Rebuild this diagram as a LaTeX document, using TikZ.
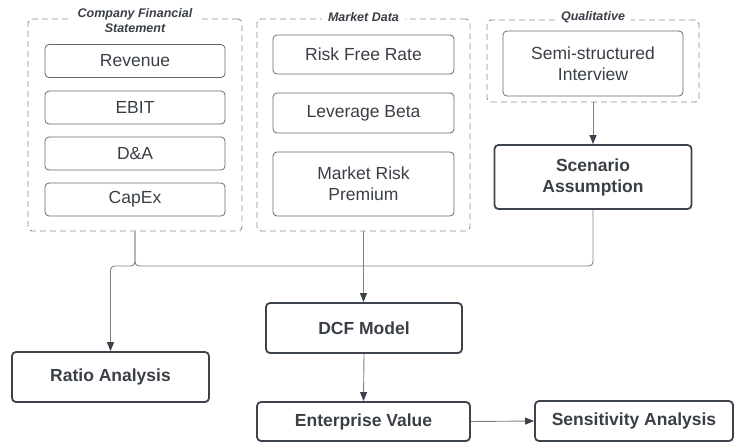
\documentclass[tikz,border=0pt]{standalone}
\usepackage{fontspec}
\setmainfont{Liberation Sans}
\usetikzlibrary{arrows.meta,positioning}
\definecolor{txt}{HTML}{3A3F47}
\definecolor{bord}{HTML}{3D434C}
\definecolor{dash}{HTML}{8A8D91}
\definecolor{conn}{HTML}{7D8186}
\tikzset{
  grp/.style={draw=dash, line width=0.9pt, dash pattern=on 6pt off 4pt, rounded corners=4pt, inner sep=0pt},
  inbox/.style={draw=bord!80, line width=0.8pt, rounded corners=4pt, text=txt, align=center, inner sep=0pt,
     font=\fontsize{17.5}{21}\selectfont},
  keybox/.style={draw=bord, line width=1.8pt, rounded corners=4pt, text=txt, align=center, inner sep=0pt,
     font=\fontsize{17.5}{21}\selectfont\bfseries},
  gtitle/.style={fill=white, text=txt, align=center, inner xsep=6pt, inner ysep=1pt,
     font=\fontsize{12.5}{15}\selectfont\bfseries\itshape},
  conline/.style={draw=conn, line width=0.9pt, rounded corners=4pt},
  arr/.style={conline, -{Triangle[length=9pt,width=7pt,color=bord]}}
}
\begin{document}
\begin{tikzpicture}[x=1pt,y=-1pt]
\useasboundingbox (0,0) rectangle (740,442);
% groups
\node[grp, minimum width=214pt, minimum height=212pt] (g1) at (135,125) {};
\node[grp, minimum width=213pt, minimum height=212pt] (g2) at (363.5,125) {};
\node[grp, minimum width=212pt, minimum height=82pt] (g3) at (593,61) {};
\node[gtitle] (t1) at (135,20.5) {Company Financial\\Statement};
\node[gtitle] (t2) at (363.5,17) {Market Data};
\node[gtitle] (t3) at (593,17) {Qualitative};
% group 1 items
\node[inbox, minimum width=180pt, minimum height=33pt] (rev) at (135,61) {Revenue};
\node[inbox, minimum width=180pt, minimum height=33pt] (ebit) at (135,107.5) {EBIT};
\node[inbox, minimum width=180pt, minimum height=33pt] (da) at (135,153.5) {D\&A};
\node[inbox, minimum width=180pt, minimum height=33pt] (capex) at (135,199.5) {CapEx};
% group 2 items
\node[inbox, minimum width=181pt, minimum height=39pt] (rfr) at (363.5,54.5) {Risk Free Rate};
\node[inbox, minimum width=181pt, minimum height=40pt] (lb) at (363.5,113) {Leverage Beta};
\node[inbox, minimum width=181pt, minimum height=64pt] (mrp) at (363.5,184) {Market Risk\\Premium};
% group 3 item
\node[inbox, minimum width=180pt, minimum height=65pt] (ssi) at (593,63.5) {Semi-structured\\Interview};
% key boxes
\node[keybox, minimum width=197pt, minimum height=64pt] (sa) at (593,177) {Scenario\\Assumption};
\node[keybox, minimum width=197pt, minimum height=50pt] (ra) at (110.5,377) {Ratio Analysis};
\node[keybox, minimum width=196pt, minimum height=50pt] (dcf) at (364,328) {DCF Model};
\node[keybox, minimum width=213pt, minimum height=39pt] (ev) at (363.5,421.5) {Enterprise Value};
\node[keybox, minimum width=198pt, minimum height=40pt] (sens) at (634,421) {Sensitivity Analysis};
% bus coordinates
\coordinate (b1) at (135,266);
\coordinate (b0) at (110.5,266);
\coordinate (b3) at (593,266);
% connectors
\draw[arr] (g1.south) -- (b1) -- (b0) -- (ra.north);
\draw[conline] (sa.south) -- (b3) -- (b1) -- (g1.south);
\draw[arr] (g2.south) -- (g2.south |- dcf.north);
\draw[arr] (g3.south) -- (sa.north);
\draw[arr] (dcf.south) -- (ev.north);
\draw[arr] (ev.east) -- (sens.west);
\end{tikzpicture}
\end{document}
